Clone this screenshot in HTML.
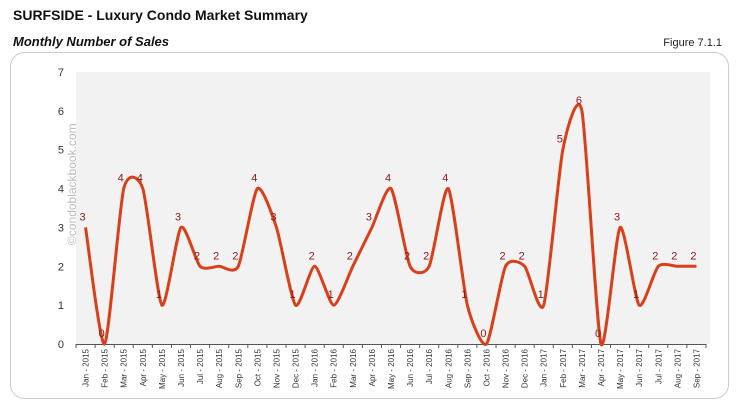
<!DOCTYPE html>
<html><head><meta charset="utf-8"><style>
body{margin:0;background:#fff;width:736px;height:408px;overflow:hidden;font-family:"Liberation Sans",sans-serif}
</style></head><body>
<svg width="736" height="408" xmlns="http://www.w3.org/2000/svg">
<text x="13" y="20" font-size="14" font-weight="bold" fill="#111">SURFSIDE - Luxury Condo Market Summary</text>
<text x="13" y="46" font-size="13" font-weight="bold" font-style="italic" fill="#111">Monthly Number of Sales</text>
<text x="722" y="46" font-size="11" text-anchor="end" fill="#222">Figure 7.1.1</text>
<rect x="10.5" y="52.5" width="718" height="346" rx="14" fill="#fff" stroke="#ccc"/>
<rect x="76" y="72" width="634" height="272" fill="#f2f2f2"/>
<text x="76" y="245" font-size="12" fill="#bbb" transform="rotate(-90 76 245)">©condoblackbook.com</text>
<g id="axes"></g>
<g id="marks"></g>
</svg>
<script>
const categories=["Jan - 2015","Feb - 2015","Mar - 2015","Apr - 2015","May - 2015","Jun - 2015","Jul - 2015","Aug - 2015","Sep - 2015","Oct - 2015","Nov - 2015","Dec - 2015","Jan - 2016","Feb - 2016","Mar - 2016","Apr - 2016","May - 2016","Jun - 2016","Jul - 2016","Aug - 2016","Sep - 2016","Oct - 2016","Nov - 2016","Dec - 2016","Jan - 2017","Feb - 2017","Mar - 2017","Apr - 2017","May - 2017","Jun - 2017","Jul - 2017","Aug - 2017","Sep - 2017"];
const sales=[3,0,4,4,1,3,2,2,2,4,3,1,2,1,2,3,4,2,2,4,1,0,2,2,1,5,6,0,3,1,2,2,2];
const yTicks=[0,1,2,3,4,5,6,7];
const NS="http://www.w3.org/2000/svg";
const L=76,R=706,T=72,B=344,yMax=7;
const step=(R-L)/categories.length;
const x=i=>L+step*(i+0.5);
const y=v=>B-(B-T)*v/yMax;
function mk(t,a,p){const e=document.createElementNS(NS,t);for(const k in a)e.setAttribute(k,a[k]);p.appendChild(e);return e;}
const axes=document.getElementById('axes'),marks=document.getElementById('marks');
yTicks.forEach(v=>{const t=mk('text',{x:64,y:y(v)+4,'font-size':11,'text-anchor':'end',fill:'#333'},axes);


t.textContent=v;});
const ax=mk('line',{x1:L,x2:R,y1:B+0.5,y2:B+0.5,stroke:'#555'},axes);


for(let i=0;i<=categories.length;i++){const tk=mk('line',{x1:L+step*i,x2:L+step*i,y1:B,y2:B+4,stroke:'#555'},axes);

}
categories.forEach((c,i)=>{const px=x(i)+3,py=349;
const t=mk('text',{x:px,y:py,'font-size':8,'text-anchor':'end',fill:'#333',transform:`rotate(-90 ${px} ${py})`},axes);


t.textContent=c;});
const pts=sales.map((v,i)=>[x(i),y(v)]);
const k=9;
let d=`M${pts[0][0]},${pts[0][1]}`;
for(let i=0;i<pts.length-1;i++){const p0=pts[i-1]||pts[i],p1=pts[i],p2=pts[i+1],p3=pts[i+2]||p2;
d+=` C${p1[0]+(p2[0]-p0[0])/k},${p1[1]+(p2[1]-p0[1])/k} ${p2[0]-(p3[0]-p1[0])/k},${p2[1]-(p3[1]-p1[1])/k} ${p2[0]},${p2[1]}`;}
const line=mk('path',{d:d,fill:'none',stroke:'#d9401a','stroke-width':3},marks);


sales.forEach((v,i)=>{const t=mk('text',{x:x(i)-3,y:y(v)-7,'font-size':11,'text-anchor':'middle',fill:'#8b1a1a'},marks);


t.textContent=v;});
</script>
</body></html>
